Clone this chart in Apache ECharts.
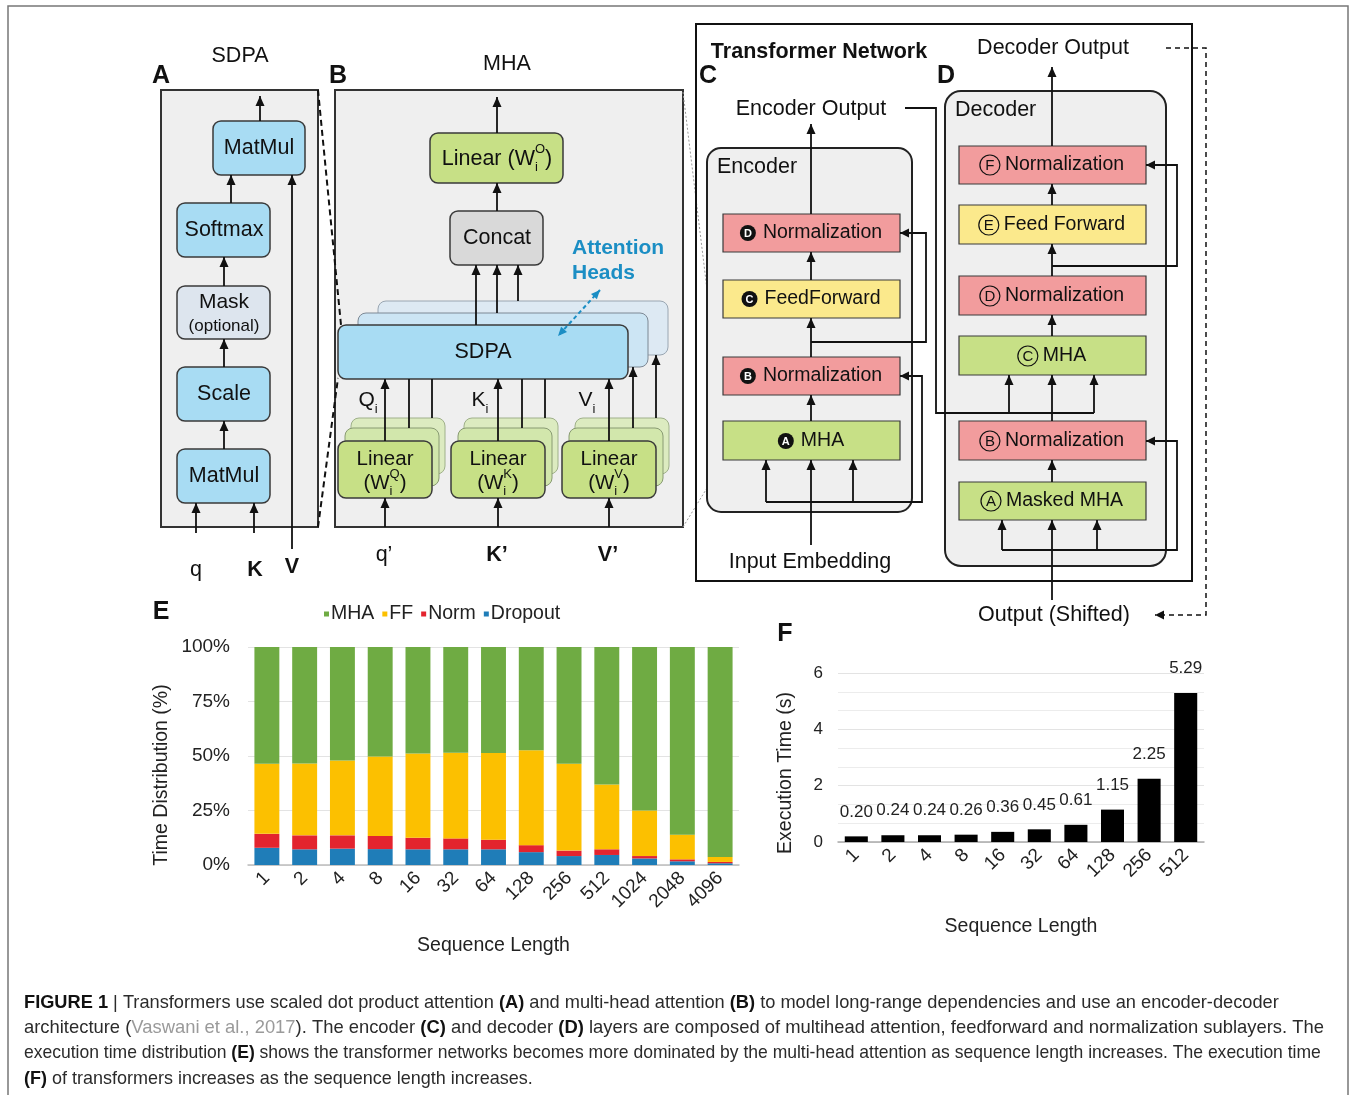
<!DOCTYPE html>
<html>
<head>
<meta charset="utf-8">
<script src="https://cdn.jsdelivr.net/npm/echarts@6/dist/echarts.min.js"></script>
<style>
html, body { margin: 0; padding: 0; background: #fff; }
#chart { width: 1354px; height: 1095px; }
</style>
</head>
<body>
<div id="chart"></div>
<script>
// ---- data: panel E (time distribution, %) ----
const seqLenE = ['1', '2', '4', '8', '16', '32', '64', '128', '256', '512', '1024', '2048', '4096']
const dropoutShare = [7.9, 7.2, 7.5, 7.3, 7.2, 7.2, 7.2, 5.9, 4.1, 4.6, 3.0, 1.7, 0.8]
const normShare = [6.4, 6.4, 6.1, 6.0, 5.3, 5.0, 4.4, 3.2, 2.5, 2.6, 1.1, 0.9, 0.6]
const ffShare = [32.2, 33.0, 34.3, 36.5, 38.6, 39.3, 39.8, 43.5, 39.9, 29.7, 20.9, 11.3, 2.3]
const mhaShare = [53.5, 53.4, 52.1, 50.2, 48.9, 48.5, 48.6, 47.4, 53.5, 63.1, 75.0, 86.1, 96.3]
const pctTicks = [0, 25, 50, 75, 100]

// ---- data: panel F (execution time, s) ----
const seqLenF = ['1', '2', '4', '8', '16', '32', '64', '128', '256', '512']
const execTime = [0.20, 0.24, 0.24, 0.26, 0.36, 0.45, 0.61, 1.15, 2.25, 5.29]

const FONT = '"Liberation Sans", Arial, Helvetica, sans-serif'
const RED = '#f29c9d', YELLOW = '#fbe98c', GREEN = '#c7e086', BLUE = '#a8dcf3', PANEL = '#efefef'
const TS = 21.5 // 图中默认字号

// 文本宽度测量
const mctx = document.createElement('canvas').getContext('2d')
function tw(str, size, weight) {
  mctx.font = `${weight || 'normal'} ${size}px ${FONT}`
  return mctx.measureText(str).width
}

const G = []
function rect(x, y, w, h, fill, o = {}) {
  G.push({
    type: 'rect', z: o.z || 3,
    shape: { x, y, width: w, height: h, r: o.r || 0 },
    style: { fill, stroke: o.stroke || '#3a3a3a', lineWidth: o.lw == null ? 1.5 : o.lw }
  })
}
function text(x, y, str, o = {}) {
  const align = o.align || 'center'
  G.push({
    type: 'text', z: o.z || 6, x, y, rotation: o.rot || 0,
    style: {
      text: str, fill: o.color || '#111',
      font: `${o.weight || 'normal'} ${o.size || TS}px ${FONT}`,
      align, textAlign: align, verticalAlign: 'middle', textVerticalAlign: 'middle'
    }
  })
}
function poly(points, o = {}) {
  G.push({
    type: 'polyline', z: o.z || 5, shape: { points },
    style: { stroke: o.color || '#111', lineWidth: o.lw || 1.8, lineDash: o.dash || null, fill: null }
  })
}
function head(x1, y1, x2, y2, o = {}) {
  const a = Math.atan2(y2 - y1, x2 - x1), L = o.hl || 10, W = o.hw || 4.5
  const bx = x2 - L * Math.cos(a), by = y2 - L * Math.sin(a)
  G.push({
    type: 'polygon', z: o.z || 5,
    shape: { points: [[x2, y2], [bx + W * Math.sin(a), by - W * Math.cos(a)], [bx - W * Math.sin(a), by + W * Math.cos(a)]] },
    style: { fill: o.color || '#111' }
  })
}
function arrow(points, o = {}) {
  poly(points, o)
  const n = points.length
  head(points[n - 2][0], points[n - 2][1], points[n - 1][0], points[n - 1][1], o)
}
// 带上下标的文本：segs = [{t, size, dy, stack}]
function seqText(cx, cy, segs, o = {}) {
  let total = 0, prevW = 0
  segs.forEach(s => {
    const w = tw(s.t, s.size, o.weight)
    if (s.stack) { total += Math.max(0, w - prevW); prevW = Math.max(w, prevW) } else { total += w; prevW = w }
  })
  let x = cx - total / 2, lastX = x
  segs.forEach(s => {
    const w = tw(s.t, s.size, o.weight)
    const px = s.stack ? lastX : x
    text(px, cy + (s.dy || 0), s.t, { size: s.size, align: 'left', weight: o.weight })
    if (s.stack) { x = Math.max(x, px + w) } else { lastX = x; x += w }
  })
}
// 圆圈字母 + 文本
function circLabel(cx, cy, letter, str, filled, size) {
  const r = filled ? 8 : 10
  const w = tw(str, size), gap = filled ? 7 : 5
  const total = 2 * r + gap + w
  const x0 = cx - total / 2
  G.push({
    type: 'circle', z: 6, shape: { cx: x0 + r, cy, r },
    style: filled ? { fill: '#111' } : { fill: null, stroke: '#111', lineWidth: 1.2 }
  })
  text(x0 + r, cy + 0.5, letter, { size: filled ? 11 : 15, weight: filled ? 'bold' : 'normal', color: filled ? '#fff' : '#111', z: 7 })
  text(x0 + 2 * r + gap, cy, str, { size, align: 'left' })
}

// ---------- figure border ----------
G.push({ type: 'rect', z: 0, shape: { x: 8, y: 6, width: 1340, height: 1110 }, style: { fill: null, stroke: '#777', lineWidth: 1.5 } })

// ---------- panel A: SDPA ----------
text(240, 56, 'SDPA')
text(161, 76, 'A', { weight: 'bold', size: 25 })
rect(161, 90, 157, 437, PANEL, { lw: 2, z: 1, stroke: '#333' })
rect(213, 121, 92, 54, BLUE, { r: 8 }); text(259, 148, 'MatMul')
rect(177, 203, 93, 54, BLUE, { r: 8 }); text(224, 230, 'Softmax')
rect(177, 286, 93, 53, '#dde5ee', { r: 8 }); text(224, 302, 'Mask', { size: 21 }); text(224, 326, '(optional)', { size: 17 })
rect(177, 367, 93, 54, BLUE, { r: 8 }); text(224, 394, 'Scale')
rect(177, 449, 93, 54, BLUE, { r: 8 }); text(224, 476, 'MatMul')
arrow([[260, 121], [260, 96]])
arrow([[231, 203], [231, 175]])
arrow([[224, 286], [224, 257]])
arrow([[224, 367], [224, 339]])
arrow([[224, 449], [224, 421]])
arrow([[196, 533], [196, 503]])
arrow([[254, 533], [254, 503]])
arrow([[292, 549], [292, 175]])
text(196, 570, 'q')
text(255, 570, 'K', { weight: 'bold' })
text(292, 567, 'V', { weight: 'bold' })
poly([[318, 90], [341, 325]], { dash: [6, 4], lw: 2 })
poly([[318, 527], [338, 378]], { dash: [6, 4], lw: 2 })

// ---------- panel B: MHA ----------
text(507, 64, 'MHA')
text(338, 76, 'B', { weight: 'bold', size: 25 })
rect(335, 90, 348, 437, PANEL, { lw: 2, z: 1, stroke: '#333' })
rect(430, 133, 133, 50, GREEN, { r: 8 })
seqText(497, 159, [{ t: 'Linear (W', size: 21.5 }, { t: 'i', size: 13, dy: 8 }, { t: 'O', size: 13, dy: -10, stack: true }, { t: ')', size: 21.5 }])
arrow([[497, 133], [497, 97]])
rect(450, 211, 93, 54, '#d9d9d9', { r: 8 }); text(497, 238, 'Concat')
arrow([[497, 211], [497, 183]])
rect(378, 301, 290, 54, '#dde9f3', { r: 8, stroke: '#9aa6b2', lw: 1, z: 2 })
rect(358, 313, 290, 54, '#cce5f4', { r: 8, stroke: '#7d8894', lw: 1, z: 2 })
rect(338, 325, 290, 54, BLUE, { r: 8 }); text(483, 352, 'SDPA')
arrow([[476, 325], [476, 265]])
arrow([[497, 313], [497, 265]])
arrow([[518, 301], [518, 265]])
text(572, 248, 'Attention', { weight: 'bold', color: '#1b8ec4', align: 'left', size: 21 })
text(572, 273, 'Heads', { weight: 'bold', color: '#1b8ec4', align: 'left', size: 21 })
poly([[600, 290], [558, 336]], { color: '#1b8ec4', dash: [4, 3], lw: 2 })
head(579, 313, 600, 290, { color: '#1b8ec4', hl: 9, hw: 4 })
head(579, 313, 558, 336, { color: '#1b8ec4', hl: 9, hw: 4 })

const linGroups = [
  { c: 385, sub: 'Q', lab: 'Q', lx: 368 },
  { c: 498, sub: 'K', lab: 'K', lx: 480 },
  { c: 609, sub: 'V', lab: 'V', lx: 587 }
]
linGroups.forEach((g, gi) => {
  rect(g.c - 34, 418, 94, 56, '#dcebc0', { r: 8, stroke: '#9fb08a', lw: 1, z: 2 })
  rect(g.c - 40, 428, 94, 58, '#d2e7ac', { r: 8, stroke: '#889a72', lw: 1, z: 2 })
  rect(g.c - 47, 441, 94, 57, GREEN, { r: 8 })
  text(g.c, 459, 'Linear', { size: 20.5 })
  seqText(g.c, 483, [{ t: '(W', size: 20.5 }, { t: 'i', size: 13, dy: 8 }, { t: g.sub, size: 13, dy: -9, stack: true }, { t: ')', size: 20.5 }])
  arrow([[g.c, 441], [g.c, 379]])
  if (gi < 2) {
    poly([[g.c + 24, 428], [g.c + 24, 379]])
    poly([[g.c + 47, 418], [g.c + 47, 379]])
  } else {
    arrow([[g.c + 24, 428], [g.c + 24, 367]])
    arrow([[g.c + 47, 418], [g.c + 47, 355]])
  }
  arrow([[g.c, 527], [g.c, 498]])
  seqText(g.lx, 400, [{ t: g.lab, size: 21 }, { t: 'i', size: 13, dy: 9 }])
})
text(384, 555, 'q\u2019')
text(497, 555, 'K\u2019', { weight: 'bold' })
text(608, 555, 'V\u2019', { weight: 'bold' })
poly([[683, 92], [723, 421]], { color: '#999', dash: [2, 2], lw: 1, z: 1 })
poly([[683, 527], [723, 462]], { color: '#999', dash: [2, 2], lw: 1, z: 1 })

// ---------- panels C & D: transformer ----------
rect(696, 24, 496, 557, null, { lw: 2, stroke: '#111', z: 1 })
text(819, 52, 'Transformer Network', { weight: 'bold' })
text(708, 76, 'C', { weight: 'bold', size: 25 })
text(946, 76, 'D', { weight: 'bold', size: 25 })

// encoder
rect(707, 148, 205, 364, PANEL, { r: 14, lw: 2, stroke: '#222', z: 1 })
text(717, 167, 'Encoder', { align: 'left' })
rect(723, 214, 177, 38, RED, { lw: 1.2 }); circLabel(811, 233, 'D', 'Normalization', true, 19.5)
rect(723, 280, 177, 38, YELLOW, { lw: 1.2 }); circLabel(811, 299, 'C', 'FeedForward', true, 19.5)
rect(723, 357, 177, 38, RED, { lw: 1.2 }); circLabel(811, 376, 'B', 'Normalization', true, 19.5)
rect(723, 421, 177, 39, GREEN, { lw: 1.2 }); circLabel(811, 441, 'A', 'MHA', true, 19.5)
arrow([[811, 545], [811, 460]])
arrow([[811, 421], [811, 395]])
arrow([[811, 357], [811, 318]])
arrow([[811, 280], [811, 252]])
arrow([[811, 214], [811, 124]])
arrow([[766, 502], [766, 460]])
arrow([[853, 502], [853, 460]])
arrow([[766, 502], [922, 502], [922, 376], [900, 376]], { hl: 9 })
arrow([[811, 342], [926, 342], [926, 233], [900, 233]], { hl: 9 })
text(811, 109, 'Encoder Output')
poly([[905, 108], [936, 108], [936, 413], [1094, 413]])
text(810, 562, 'Input Embedding')

// decoder
rect(945, 91, 221, 475, PANEL, { r: 16, lw: 2, stroke: '#222', z: 1 })
text(955, 110, 'Decoder', { align: 'left' })
rect(959, 146, 187, 38, RED, { lw: 1.2 }); circLabel(1052, 165, 'F', 'Normalization', false, 19.5)
rect(959, 205, 187, 39, YELLOW, { lw: 1.2 }); circLabel(1052, 225, 'E', 'Feed Forward', false, 19.5)
rect(959, 276, 187, 39, RED, { lw: 1.2 }); circLabel(1052, 296, 'D', 'Normalization', false, 19.5)
rect(959, 336, 187, 39, GREEN, { lw: 1.2 }); circLabel(1052, 356, 'C', 'MHA', false, 19.5)
rect(959, 421, 187, 39, RED, { lw: 1.2 }); circLabel(1052, 441, 'B', 'Normalization', false, 19.5)
rect(959, 482, 187, 38, GREEN, { lw: 1.2 }); circLabel(1052, 501, 'A', 'Masked MHA', false, 19.5)
arrow([[1052, 600], [1052, 520]])
arrow([[1052, 482], [1052, 460]])
arrow([[1052, 421], [1052, 375]])
arrow([[1052, 336], [1052, 315]])
arrow([[1052, 276], [1052, 244]])
arrow([[1052, 205], [1052, 184]])
arrow([[1052, 146], [1052, 67]])
arrow([[1002, 550], [1002, 520]])
arrow([[1097, 550], [1097, 520]])
arrow([[1002, 550], [1177, 550], [1177, 441], [1146, 441]], { hl: 9 })
arrow([[1009, 413], [1009, 375]])
arrow([[1094, 413], [1094, 375]])
arrow([[1052, 266], [1177, 266], [1177, 165], [1146, 165]], { hl: 9 })
text(1053, 48, 'Decoder Output')
arrow([[1166, 48], [1206, 48], [1206, 615], [1155, 615]], { dash: [5, 4], lw: 1.5, hl: 9 })
text(1054, 615, 'Output (Shifted)')

// panel letters & rotated axis titles for charts
text(161, 612, 'E', { weight: 'bold', size: 25 })
text(785, 634, 'F', { weight: 'bold', size: 25 })
text(162, 775, 'Time Distribution (%)', { size: 19.5, rot: Math.PI / 2, color: '#222' })
text(786, 773, 'Execution Time (s)', { size: 19.5, rot: Math.PI / 2, color: '#222' })

// ---------- caption ----------
const capLines = [
  '{b|FIGURE 1} | Transformers use scaled dot product attention {b|(A)} and multi-head attention {b|(B)} to model long-range dependencies and use an encoder-decoder',
  'architecture ({g|Vaswani et al., 2017}). The encoder {b|(C)} and decoder {b|(D)} layers are composed of multihead attention, feedforward and normalization sublayers. The',
  'execution time distribution {b|(E)} shows the transformer networks becomes more dominated by the multi-head attention as sequence length increases. The execution time',
  '{b|(F)} of transformers increases as the sequence length increases.'
]
const capRight = [1280, 1334, 1322, 533]
function capWidth(ln, size) {
  let w = 0
  ln.split(/(\{[bg]\|[^}]*\})/).forEach(part => {
    const m = part.match(/^\{([bg])\|([^}]*)\}$/)
    if (m) w += tw(m[2], size, m[1] === 'b' ? 'bold' : 'normal')
    else w += tw(part, size)
  })
  return w
}
capLines.forEach((ln, i) => {
  const fs = Math.min(18.4, 10 * (capRight[i] - 24) / capWidth(ln, 10))
  G.push({
    type: 'text', z: 6, x: 24, y: 1003 + i * 25.2,
    style: {
      text: ln, fill: '#2b2b2b', fontSize: fs, fontFamily: FONT,
      align: 'left', textAlign: 'left', verticalAlign: 'middle', textVerticalAlign: 'middle',
      rich: {
        b: { fontWeight: 'bold', fontSize: fs, fontFamily: FONT, fill: '#111', color: '#111' },
        g: { fontSize: fs, fontFamily: FONT, fill: '#9a9a9a', color: '#9a9a9a' }
      }
    }
  })
})

// ---------- charts E & F ----------
const axisText = { color: '#222', fontSize: 19, fontFamily: FONT }
const rotLabel = { ...axisText, rotate: 45, interval: 0, margin: 10, padding: [20, 0, 0, 0] }
const chart = echarts.init(document.getElementById('chart'), null, { renderer: 'canvas' })
chart.setOption({
  animation: false,
  backgroundColor: '#fff',
  textStyle: { fontFamily: FONT },
  graphic: { elements: G },
  legend: {
    data: ['MHA', 'FF', 'Norm', 'Dropout'],
    left: 324, top: 604, padding: 0,
    icon: 'rect', itemWidth: 5, itemHeight: 5, itemGap: 8,
    textStyle: { fontSize: 19.5, color: '#222', fontFamily: FONT, padding: [0, 0, 0, -3] }
  },
  grid: [
    { left: 248, top: 647, width: 491, height: 218 },
    { left: 838, top: 673, width: 366, height: 169 }
  ],
  xAxis: [
    {
      gridIndex: 0, type: 'category', data: seqLenE,
      axisLine: { lineStyle: { color: '#bdbdbd', width: 1.5 } },
      axisTick: { show: false },
      axisLabel: rotLabel,
      name: 'Sequence Length', nameLocation: 'middle', nameGap: 71,
      nameTextStyle: { fontSize: 19.5, color: '#222' }
    },
    {
      gridIndex: 1, type: 'category', data: seqLenF,
      axisLine: { lineStyle: { color: '#aaa', width: 1.5 } },
      axisTick: { show: false },
      axisLabel: rotLabel,
      name: 'Sequence Length', nameLocation: 'middle', nameGap: 75,
      nameTextStyle: { fontSize: 19.5, color: '#222' }
    }
  ],
  yAxis: [
    {
      gridIndex: 0, type: 'value', min: pctTicks[0], max: pctTicks[pctTicks.length - 1], interval: 25,
      axisLabel: { ...axisText, formatter: '{value}%', margin: 18 },
      splitLine: { lineStyle: { color: '#e3e3e3' } },
      axisLine: { show: false }, axisTick: { show: false }
    },
    {
      gridIndex: 1, type: 'value', min: 0, max: 6, interval: 2,
      axisLabel: { ...axisText, fontSize: 17, margin: 15 },
      splitLine: { lineStyle: { color: '#e3e3e3' } },
      minorTick: { show: false, splitNumber: 3 },
      minorSplitLine: { show: true, lineStyle: { color: '#ececec' } },
      axisLine: { show: false }, axisTick: { show: false }
    }
  ],
  series: [
    { name: 'Dropout', type: 'bar', stack: 'E', xAxisIndex: 0, yAxisIndex: 0, barWidth: '66%', itemStyle: { color: '#1f7db8' }, data: dropoutShare },
    { name: 'Norm', type: 'bar', stack: 'E', xAxisIndex: 0, yAxisIndex: 0, barWidth: '66%', itemStyle: { color: '#e3242e' }, data: normShare },
    { name: 'FF', type: 'bar', stack: 'E', xAxisIndex: 0, yAxisIndex: 0, barWidth: '66%', itemStyle: { color: '#fcc000' }, data: ffShare },
    { name: 'MHA', type: 'bar', stack: 'E', xAxisIndex: 0, yAxisIndex: 0, barWidth: '66%', itemStyle: { color: '#6fab43' }, data: mhaShare },
    {
      name: 'Execution Time', type: 'bar', xAxisIndex: 1, yAxisIndex: 1, barWidth: '63%',
      itemStyle: { color: '#000' }, data: execTime,
      label: { show: true, position: 'top', distance: 16, fontSize: 17, color: '#222', formatter: p => p.value.toFixed(2) }
    }
  ]
})
</script>
</body>
</html>
